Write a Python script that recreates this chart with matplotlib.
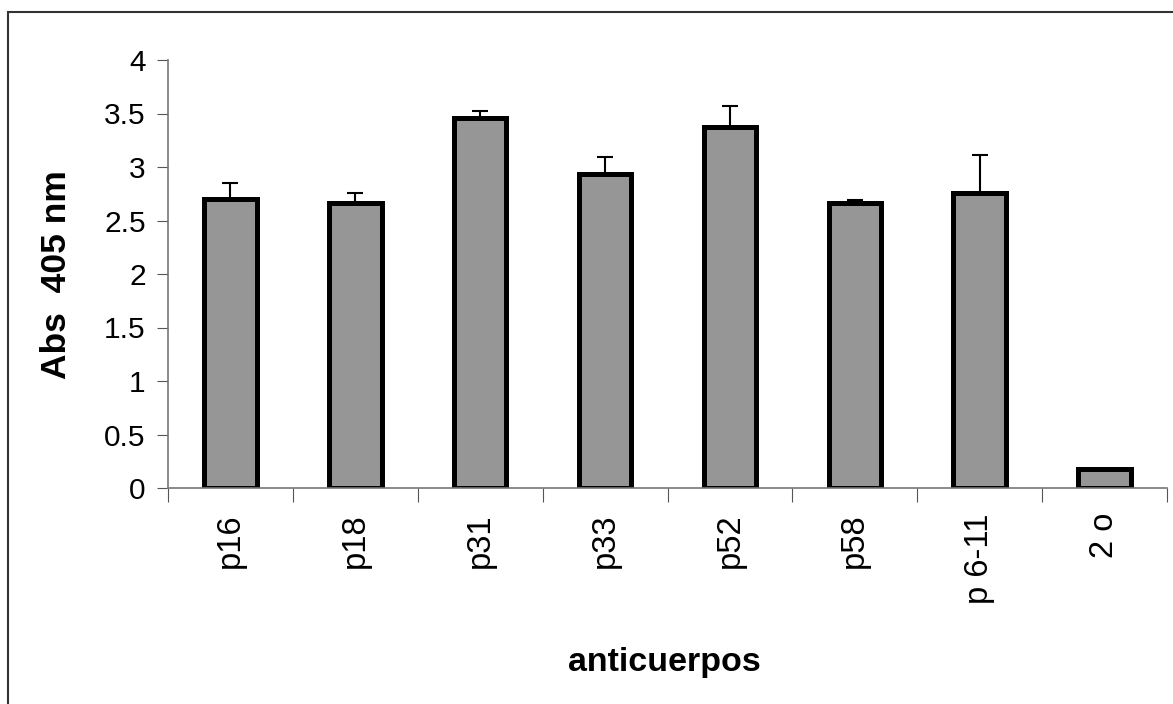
import numpy as np
import matplotlib.pyplot as plt
from matplotlib.patches import Rectangle

plt.rcParams['font.family'] = ['Liberation Sans', 'DejaVu Sans']

# data
labels = ['p16', 'p18', 'p31', 'p33', 'p52', 'p58', 'p 6-11', '2 o']
values = [2.70, 2.66, 3.46, 2.93, 3.37, 2.66, 2.76, 0.18]
errors = [0.15, 0.10, 0.06, 0.16, 0.20, 0.03, 0.35, 0.0]

fig = plt.figure(figsize=(11.73, 7.04), dpi=100)
ax = fig.add_axes([168/1173, 216/704, 999/1173, 428/704])

x = np.arange(len(labels))
ax.bar(x, values, width=0.42, color='#969696', edgecolor='black',
       linewidth=3.6, zorder=2)
ax.errorbar(x, values, yerr=[np.zeros(len(errors)), errors], fmt='none',
            ecolor='black', elinewidth=1.5, capsize=5.5, capthick=1.5, zorder=1)

ax.set_xlim(-0.5, len(labels) - 0.5)
ax.set_ylim(0, 4)
ax.set_yticks(np.arange(0, 4.01, 0.5))
ax.set_yticklabels(['0', '0.5', '1', '1.5', '2', '2.5', '3', '3.5', '4'])
ax.set_xticks(np.arange(-0.5, len(labels), 1.0))
ax.set_xticklabels([])
ax.set_xticks(x, minor=True)
ax.set_xticklabels(labels, minor=True, rotation=90, fontsize=23.5)
ax.tick_params(axis='x', which='minor', length=0, pad=18)
ax.tick_params(axis='x', which='major', length=10, color='#555555')
ax.tick_params(axis='y', length=8, color='#555555', labelsize=21.5, pad=8)

for s in ['top', 'right']:
    ax.spines[s].set_visible(False)
for s in ['left', 'bottom']:
    ax.spines[s].set_color('#777777')
    ax.spines[s].set_linewidth(1.2)

fig.text(56/1173, 1 - 275/704, 'Abs  405 nm', fontsize=25.5, fontweight='bold',
         rotation=90, ha='center', va='center')
fig.text(664/1173, 1 - 663/704, 'anticuerpos', fontsize=24.5, fontweight='bold',
         ha='center', va='center')

# outer chart border
fig.patches.append(Rectangle((8/1173, -0.1), 1.2, 1 - 12/704 + 0.1,
                             transform=fig.transFigure, fill=False,
                             edgecolor='#333333', linewidth=1.5))

fig.savefig('out.png', dpi=100)
